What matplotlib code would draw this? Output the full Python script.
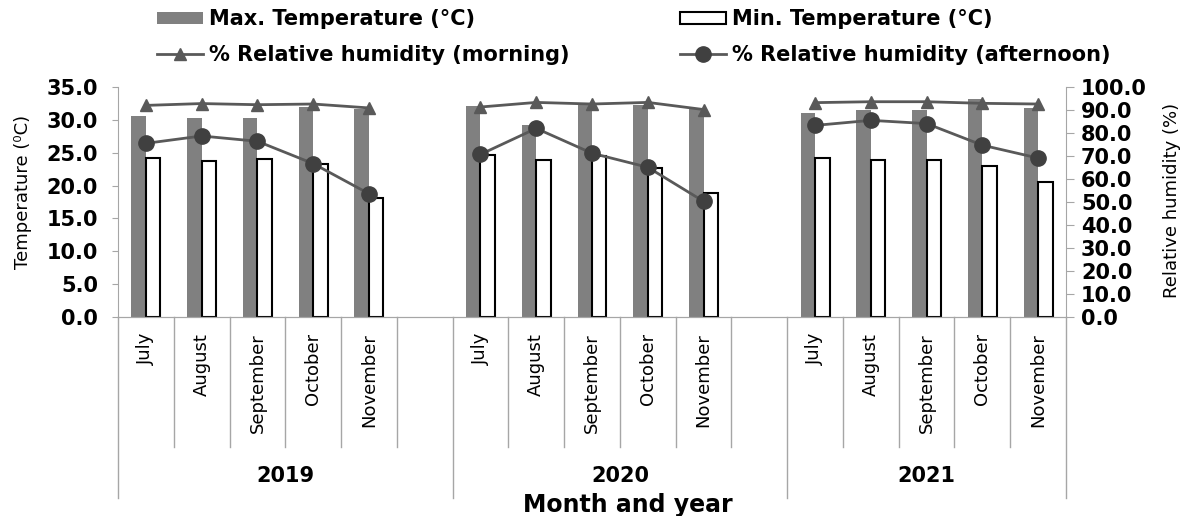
import numpy as np
import matplotlib
matplotlib.use("Agg")
import matplotlib.pyplot as plt

YEARS = ["2019", "2020", "2021"]
MONTHS = ["July", "August", "September", "October", "November"]

# valores, ordenados año -> mes
max_temp = [30.6, 30.3, 30.3, 31.9, 31.6,
            32.1, 29.2, 32.4, 32.3, 31.6,
            31.0, 31.5, 31.5, 33.1, 31.8]
min_temp = [24.2, 23.8, 24.0, 23.3, 18.1,
            24.6, 23.9, 24.5, 22.6, 18.9,
            24.2, 23.9, 23.9, 23.0, 20.5]
rh_morning = [92.0, 92.8, 92.3, 92.6, 90.9,
              91.3, 93.3, 92.6, 93.3, 90.2,
              93.2, 93.6, 93.6, 92.9, 92.6]
rh_afternoon = [75.5, 78.7, 76.4, 66.7, 53.6,
                70.7, 82.0, 71.2, 65.1, 50.3,
                83.3, 85.5, 84.1, 74.7, 69.1]

GRIS_EJE = "#a6a6a6"
n_m = len(MONTHS)
slot = n_m + 1  # un hueco vacío entre años

fig = plt.figure(figsize=(11.86, 5.16), dpi=100)
ax = fig.add_axes([118 / 1186, 1 - 317 / 516, 948 / 1186, 230 / 516])
ax2 = ax.twinx()

xpos = np.array([i * slot + j for i in range(len(YEARS)) for j in range(n_m)])
w = 0.26
b_max = ax.bar(xpos - w / 2, max_temp, w, color="#808080", label="Max. Temperature (°C)", zorder=2)
b_min = ax.bar(xpos + w / 2, min_temp, w, color="white", edgecolor="black", linewidth=1.5,
               label="Min. Temperature (°C)", zorder=2)

for i in range(len(YEARS)):
    sel = slice(i * n_m, (i + 1) * n_m)
    l_mor, = ax2.plot(xpos[sel], rh_morning[sel], color="#595959", lw=2, marker="^", ms=9,
                      label="% Relative humidity (morning)")
    l_aft, = ax2.plot(xpos[sel], rh_afternoon[sel], color="#595959", lw=2, marker="o", ms=11,
                      mfc="#404040", mec="#404040", label="% Relative humidity (afternoon)")

ax.set_xlim(-0.5, len(YEARS) * slot - 1.5)
ax.set_ylim(0, 35)
ax.set_yticks(np.arange(0, 35.1, 5))
ax2.set_ylim(0, 100)
ax2.set_yticks(np.arange(0, 100.1, 10))
ax.yaxis.set_major_formatter(matplotlib.ticker.FormatStrFormatter("%.1f"))
ax2.yaxis.set_major_formatter(matplotlib.ticker.FormatStrFormatter("%.1f"))
ax.set_xticks([])

for a in (ax, ax2):
    a.spines["top"].set_visible(False)
    for s in ("left", "right", "bottom"):
        a.spines[s].set_color(GRIS_EJE)
ax.spines["right"].set_visible(False)
ax2.spines["left"].set_visible(False)
ax.tick_params(axis="y", length=4.3, color=GRIS_EJE, labelsize=15, pad=10)
ax2.tick_params(axis="y", length=5.8, color=GRIS_EJE, labelsize=15, pad=5)
for lab in ax.get_yticklabels() + ax2.get_yticklabels():
    lab.set_fontweight("bold")

ax.set_ylabel("Temperature (⁰C)", fontsize=13)
ax.yaxis.set_label_coords((32 - 118) / 948, 0.545)
ax2.set_ylabel("Relative humidity (%)", fontsize=13)
ax2.yaxis.set_label_coords((1163 - 118) / 948, 0.505)

# eje de categorías en dos niveles
tr = ax.get_xaxis_transform()
for i, y in enumerate(YEARS):
    start = i * slot - 0.5
    nslots = n_m + 1 if i < len(YEARS) - 1 else n_m
    ax.plot([start, start], [0, -0.787], color=GRIS_EJE, lw=1, transform=tr, clip_on=False)
    for k in range(1, nslots):
        ax.plot([start + k, start + k], [0, -0.565], color=GRIS_EJE, lw=1, transform=tr, clip_on=False)
    for j, m in enumerate(MONTHS):
        ax.text(i * slot + j, -0.07, m, rotation=90, ha="center", va="top", fontsize=13, transform=tr)
    ax.text(start + nslots / 2, -0.691, y, ha="center", va="center", fontsize=15,
            fontweight="bold", transform=tr)
end = len(YEARS) * slot - 1.5
ax.plot([end, end], [0, -0.787], color=GRIS_EJE, lw=1, transform=tr, clip_on=False)

fig.text(628 / 1186, 1 - 505 / 516, "Month and year", ha="center", va="center",
         fontsize=17, fontweight="bold")

fig.legend([b_max, l_mor, b_min, l_aft],
           [b_max.get_label(), l_mor.get_label(), b_min.get_label(), l_aft.get_label()],
           ncol=2, loc="upper left", bbox_to_anchor=(157 / 1186, 1 - 9 / 516),
           frameon=False, borderpad=0, borderaxespad=0, handlelength=2.2, handleheight=0.5,
           handletextpad=0.3, columnspacing=5.3, labelspacing=0.75,
           prop={"size": 15, "weight": "bold"})

fig.savefig("out.png", dpi=100)
